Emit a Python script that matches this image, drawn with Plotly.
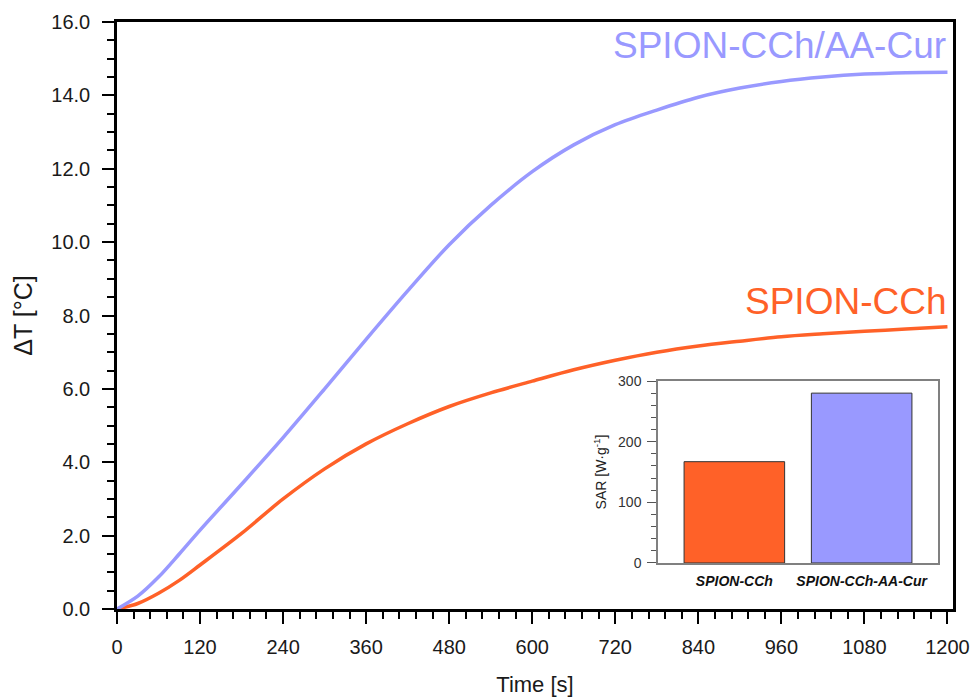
import plotly.graph_objects as go

# Heating curves: temperature rise vs. time under the alternating magnetic field
time_s = [0, 30, 60, 90, 120, 180, 240, 300, 360, 420, 480, 540, 600, 660,
          720, 780, 840, 900, 960, 1020, 1080, 1140, 1200]
dT_cch = [0.0, 0.15, 0.43, 0.78, 1.20, 2.06, 3.00, 3.82, 4.50, 5.05, 5.52,
          5.89, 6.21, 6.52, 6.78, 7.00, 7.17, 7.30, 7.42, 7.50, 7.57, 7.63, 7.69]
dT_cch_aa_cur = [0.0, 0.35, 0.87, 1.50, 2.15, 3.40, 4.67, 6.00, 7.35, 8.67,
                 9.93, 11.00, 11.92, 12.65, 13.20, 13.60, 13.95, 14.20, 14.38,
                 14.50, 14.58, 14.62, 14.63]

# Specific absorption rate (inset)
sar_labels = ["SPION-CCh", "SPION-CCh-AA-Cur"]
sar_values = [167, 280]

x_ticks = [0, 120, 240, 360, 480, 600, 720, 840, 960, 1080, 1200]
y_ticks = [0, 2, 4, 6, 8, 10, 12, 14, 16]

ORANGE = "#FF6128"
LAVENDER = "#9999FF"
FONT = "Arial, Liberation Sans, sans-serif"

fig = go.Figure()

fig.add_trace(go.Scatter(x=time_s, y=dT_cch, mode="lines",
                         line=dict(color=ORANGE, width=3.5, shape="spline",
                                   smoothing=0.9),
                         showlegend=False, xaxis="x", yaxis="y"))
fig.add_trace(go.Scatter(x=time_s, y=dT_cch_aa_cur, mode="lines",
                         line=dict(color=LAVENDER, width=3.5, shape="spline",
                                   smoothing=0.9),
                         showlegend=False, xaxis="x", yaxis="y"))

fig.add_trace(go.Bar(x=sar_labels, y=sar_values, width=0.79,
                     marker=dict(color=[ORANGE, LAVENDER],
                                 line=dict(color="#333333", width=1)),
                     showlegend=False, xaxis="x2", yaxis="y2"))

fig.update_layout(
    width=971, height=698,
    margin=dict(l=117, r=18, t=22, b=89),
    paper_bgcolor="white", plot_bgcolor="white",
    font=dict(family=FONT, color="#1a1a1a"),
    xaxis=dict(
        domain=[0, 1], range=[0, 1208], automargin=False,
        tickvals=x_ticks, ticktext=[str(v) for v in x_ticks],
        ticks="outside", ticklen=12, tickwidth=2, tickcolor="black",
        minor=dict(dtick=24, tick0=0, ticks="outside", ticklen=7,
                   tickwidth=2, tickcolor="black"),
        showline=True, linewidth=2.5, linecolor="black", mirror=True,
        showgrid=False, zeroline=False,
        tickfont=dict(size=20, family=FONT), ticklabelstandoff=6,
        title=dict(text="Time [s]", font=dict(size=22, family=FONT), standoff=20),
    ),
    yaxis=dict(
        domain=[0, 1], range=[0, 16], automargin=False,
        tickvals=y_ticks, ticktext=[f"{v:.1f}" for v in y_ticks],
        ticks="outside", ticklen=12, tickwidth=2, tickcolor="black",
        minor=dict(dtick=0.5, tick0=0, ticks="outside", ticklen=7,
                   tickwidth=2, tickcolor="black"),
        showline=True, linewidth=2.5, linecolor="black", mirror=True,
        showgrid=False, zeroline=False,
        tickfont=dict(size=20, family=FONT), ticklabelstandoff=8,
        title=dict(text="ΔT [°C]", font=dict(size=25, family=FONT), standoff=12),
    ),
    xaxis2=dict(
        domain=[0.6471, 0.9821], anchor="y2", type="category",
        range=[-0.6, 1.6], automargin=False,
        showline=True, linewidth=1.5, linecolor="#808080", mirror=True,
        ticks="", showgrid=False, zeroline=False,
        tickfont=dict(size=14, family=FONT, color="#111111", weight="bold",
                      style="italic"),
        ticklabelstandoff=4,
    ),
    yaxis2=dict(
        domain=[0.0784, 0.3884], anchor="x2", range=[0, 300], automargin=False,
        tickvals=[0, 100, 200, 300],
        ticks="outside", ticklen=9, tickwidth=1.2, tickcolor="#555555",
        minor=dict(dtick=20, tick0=0, ticks="outside", ticklen=5,
                   tickwidth=1.2, tickcolor="#555555"),
        showline=True, linewidth=1.5, linecolor="#808080", mirror=True,
        showgrid=False, zeroline=False,
        tickfont=dict(size=14, family=FONT, color="#333333"),
        ticklabelstandoff=3,
        title=dict(text="SAR [W·g<sup>-1</sup>]",
                   font=dict(size=14, family=FONT, color="#222222"), standoff=8),
    ),
    annotations=[
        dict(x=1201, y=15.37, xref="x", yref="y", text="SPION-CCh/AA-Cur",
             showarrow=False, xanchor="right", yanchor="middle",
             font=dict(size=37, family=FONT, color=LAVENDER)),
        dict(x=1201, y=8.39, xref="x", yref="y", text="SPION-CCh",
             showarrow=False, xanchor="right", yanchor="middle",
             font=dict(size=37, family=FONT, color=ORANGE)),
    ],
)

fig.write_html("out.html")
